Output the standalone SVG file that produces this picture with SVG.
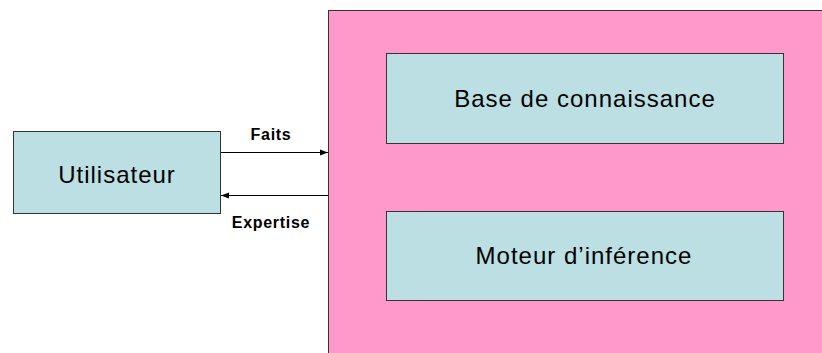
<svg xmlns="http://www.w3.org/2000/svg" width="822" height="353" viewBox="0 0 822 353">
<defs>
<style>
.box{fill:#BBDFE3;stroke:#333;stroke-width:1}
.lbl{font-family:"Liberation Sans",Arial,sans-serif;font-size:24px;letter-spacing:1px;fill:#000;text-anchor:middle}
.cl{font-family:"Liberation Sans",Arial,sans-serif;font-size:16px;font-weight:bold;letter-spacing:0.7px;fill:#000;text-anchor:middle}
.conn{stroke:#000;stroke-width:1;fill:none}
</style>
<marker id="ah" markerWidth="8" markerHeight="8" refX="8" refY="4" orient="auto" markerUnits="userSpaceOnUse">
<path d="M0,1 L8,4 L0,7 Z" fill="#000"/>
</marker>
</defs>
<rect width="822" height="353" fill="#fff"/>
<g id="systeme">
<rect x="328.5" y="10.5" width="500" height="350" fill="#FF99CC" stroke="#333"/>
</g>
<g id="base">
<rect class="box" x="386.5" y="53.5" width="397" height="90"/>
<text class="lbl" x="585" y="107">Base de connaissance</text>
</g>
<g id="moteur">
<rect class="box" x="386.5" y="211.5" width="397" height="89"/>
<text class="lbl" x="584" y="264">Moteur d’inférence</text>
</g>
<g id="utilisateur">
<rect class="box" x="13.5" y="131.5" width="207" height="82"/>
<text class="lbl" x="117" y="183">Utilisateur</text>
</g>
<g id="connectors">
<line class="conn" x1="221" y1="152.5" x2="328" y2="152.5" marker-end="url(#ah)"/>
<line class="conn" x1="328" y1="195.5" x2="221" y2="195.5" marker-end="url(#ah)"/>
<text class="cl" x="271" y="140">Faits</text>
<text class="cl" x="271" y="228">Expertise</text>
</g>
</svg>
